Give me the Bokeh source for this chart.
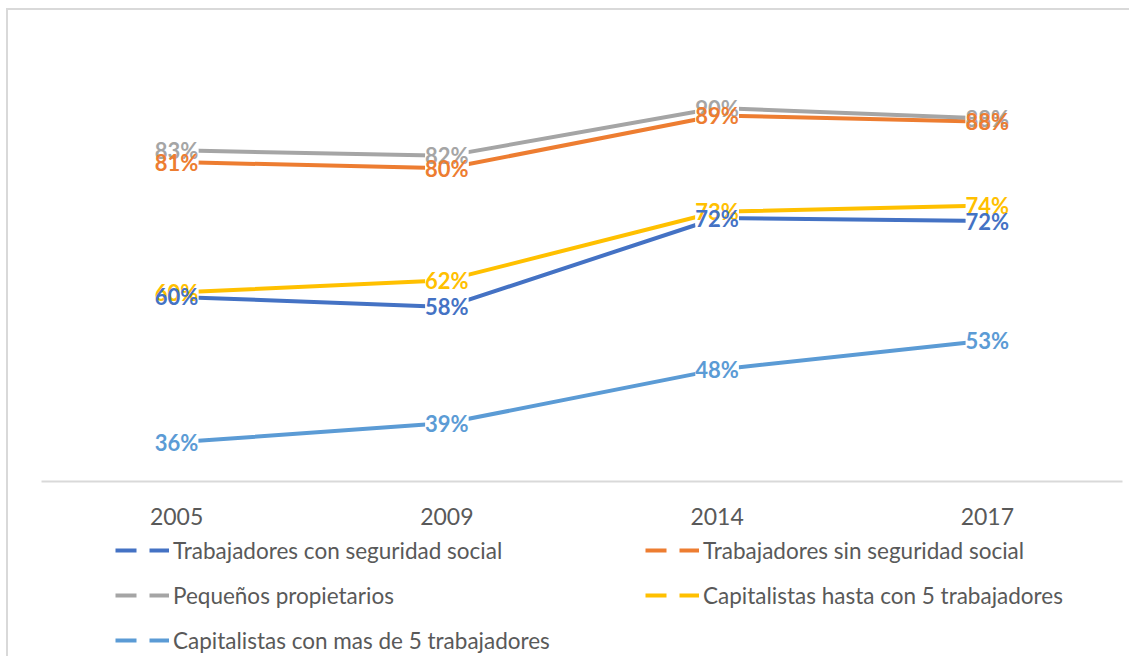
from bokeh.plotting import figure
from bokeh.layouts import column
from bokeh.models import ColumnDataSource, FactorRange, Range1d, LabelSet, Legend, LegendItem
from bokeh.core.properties import value
from bokeh.embed import file_html
from bokeh.resources import INLINE

years = ["2005", "2009", "2014", "2017"]

series_names = [
    "Trabajadores con seguridad social",
    "Trabajadores sin seguridad social",
    "Pequeños propietarios",
    "Capitalistas hasta con 5 trabajadores",
    "Capitalistas con mas de 5 trabajadores",
]
con_seguridad = [59.7, 58.1, 72.4, 71.9]
sin_seguridad = [81.4, 80.4, 88.9, 87.9]
pequenos_propietarios = [83.3, 82.4, 90.1, 88.4]
capitalistas_hasta_5 = [60.4, 62.4, 73.4, 74.4]
capitalistas_mas_5 = [36.3, 39.4, 48.0, 52.7]

series_values = [con_seguridad, sin_seguridad, pequenos_propietarios,
                 capitalistas_hasta_5, capitalistas_mas_5]
colors = ["#4472C4", "#ED7D31", "#A5A5A5", "#FFC000", "#5B9BD5"]

W = 1129
p = figure(width=W, height=530,
           x_range=FactorRange(factors=years), y_range=Range1d(30, 100),
           output_backend="svg", toolbar_location=None, y_axis_location=None,
           min_border_left=41, min_border_right=7,
           min_border_top=46, min_border_bottom=49)
p.styles = {"box-shadow": "inset 6px 8px 0 white, inset 8px 10px 0 #D9D9D9"}
p.border_fill_alpha = 0
p.outline_line_color = None
p.xgrid.visible = False
p.ygrid.visible = False

ax = p.xaxis[0]
ax.axis_line_color = "#D9D9D9"
ax.axis_line_width = 2
ax.major_tick_line_color = None
ax.minor_tick_line_color = None
ax.major_label_text_font = "Lato"
ax.major_label_text_font_size = "23px"
ax.major_label_text_color = "#595959"
ax.major_label_standoff = 20

# legend-only figure underneath
pl = figure(width=W, height=126,
            x_range=FactorRange(factors=years), y_range=Range1d(30, 100),
            output_backend="svg", toolbar_location=None,
            x_axis_location=None, y_axis_location=None, min_border=0)
pl.styles = {"box-shadow": "inset 6px 0 0 white, inset 8px 0 0 #D9D9D9"}
pl.border_fill_alpha = 0
pl.background_fill_alpha = 0
pl.outline_line_color = None
pl.xgrid.visible = False
pl.ygrid.visible = False

sources = []
legend_renderers = []
for name, vals, col in zip(series_names, series_values, colors):
    src = ColumnDataSource(dict(x=years, y=vals, label=[f"{round(v)}%" for v in vals]))
    sources.append((src, col))
    p.line("x", "y", source=src, line_color=col, line_width=4, line_join="round")
    r = pl.line("x", "y", source=src, line_color=col, line_width=4,
                line_dash="21 13", visible=False)
    legend_renderers.append(r)

label_style = dict(text_align="center", text_baseline="middle",
                   text_font=value("Lato"), text_font_style="bold",
                   text_font_size="22px")
# white boxes under every label (hide the lines behind the labels)
for src, col in sources:
    p.add_layout(LabelSet(x="x", y="y", text="label", source=src, text_alpha=0,
                          background_fill_color="white", background_fill_alpha=1.0,
                          **label_style))
# coloured label texts on top
for i in [4, 2, 1, 3, 0]:
    src, col = sources[i]
    p.add_layout(LabelSet(x="x", y="y", text="label", source=src,
                          text_color=col, **label_style))


def make_legend(idx, loc):
    items = [LegendItem(label=series_names[i], renderers=[legend_renderers[i]]) for i in idx]
    return Legend(items=items, location=loc, orientation="vertical",
                  glyph_width=54, glyph_height=28, label_height=28, spacing=17,
                  label_standoff=4, padding=0, margin=0,
                  border_line_color=None, background_fill_alpha=0,
                  label_text_font="Lato", label_text_font_size="22.5px",
                  label_text_color="#595959", click_policy="none")


pl.add_layout(make_legend([0, 2, 4], (74, 2)))
pl.add_layout(make_legend([1, 3], (604, 47)))

layout = column(p, pl, spacing=0)
open("out.html", "w").write(file_html(layout, INLINE))
